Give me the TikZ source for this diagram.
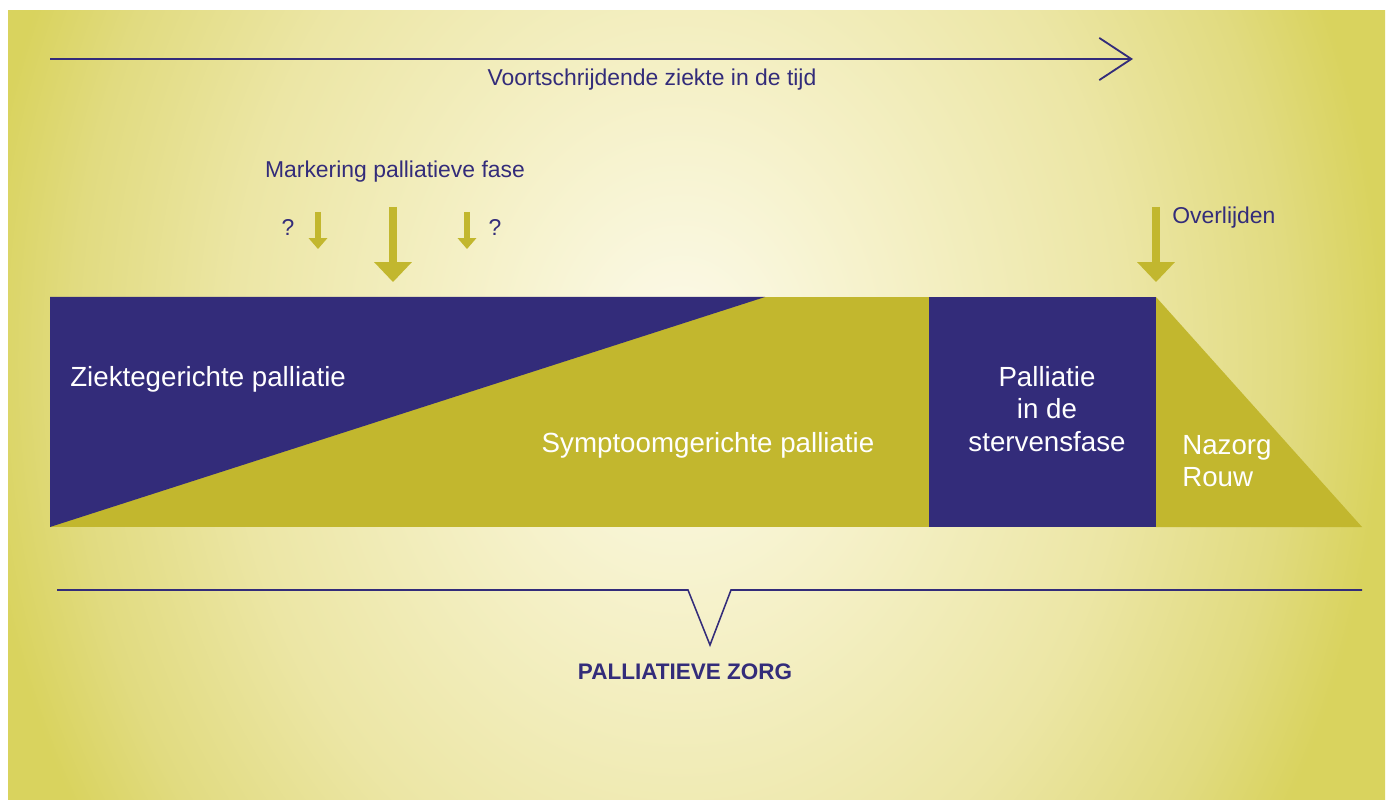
\documentclass[tikz,border=0pt]{standalone}
\usepackage{fontspec}
\setmainfont{Liberation Sans}
\usepackage{xcolor}
\usepackage{tikz}
\usetikzlibrary{arrows.meta, positioning, calc}
\definecolor{navy}{HTML}{332C7A}
\definecolor{olive}{HTML}{C2B72E}
\definecolor{bgin}{HTML}{FCFAEB}
\definecolor{bgone}{HTML}{F6F2CC}
\definecolor{bgtwo}{HTML}{ECE6A5}
\definecolor{bgthree}{HTML}{E1DB80}
\definecolor{bgout}{HTML}{D9D35E}
\pgfdeclareradialshading{bgglow}{\pgfpoint{0bp}{0bp}}{%
  color(0bp)=(bgin); color(6bp)=(bgone); color(14bp)=(bgtwo);
  color(19bp)=(bgthree); color(22bp)=(bgout); color(50bp)=(bgout)}
\tikzset{
  lbl/.style      = {inner sep=0pt, text=navy, font=\fontsize{16.3}{19}\selectfont},
  bandtext/.style = {inner sep=0pt, text=white, font=\fontsize{19.7}{23}\selectfont},
  timeline/.style = {navy, line width=1.3pt,
    -{Straight Barb[length=22.8pt, width=30pt, line width=1.3pt]}},
  bigmark/.style  = {olive, line width=5.7pt,
    -{Triangle[length=14.2pt, width=27pt, line width=0pt]}},
  smallmark/.style = {olive, line width=3.6pt,
    -{Triangle[length=7.8pt, width=13.5pt, line width=0pt]}},
  brace/.style    = {navy, line width=1.1pt, line join=miter},
}

\begin{document}
\begin{tikzpicture}[x=0.025cm, y=-0.025cm]

  \useasboundingbox (0,0) rectangle (1390,800);
  \fill[white] (0,0) rectangle (1390,800);

  % Background glow
  \begin{scope}
    \clip (8,11) rectangle (1385,800);
    \shade[shading=bgglow] (680,360) ellipse [x radius=800, y radius=1000];
  \end{scope}

  % Time axis
  \coordinate (tstart) at (50,59);
  \coordinate (tend)   at (1133,59);
  \draw[timeline] (tstart) -- (tend);
  \node[lbl, anchor=base] (timetext) at (652,86) {Voortschrijdende ziekte in de tijd};

  % Markering palliatieve fase
  \node[lbl, anchor=base] (markering) at (395,178) {Markering palliatieve fase};
  \node[lbl, anchor=base] (qleft)  at (288,236) {?};
  \node[lbl, anchor=base] (qright) at (495,236) {?};
  \coordinate (mleft)     at (318,212);
  \coordinate (mlefttip)  at (318,249);
  \coordinate (mmid)      at (393,207);
  \coordinate (mmidtip)   at (393,282);
  \coordinate (mright)    at (467,212);
  \coordinate (mrighttip) at (467,249);
  \draw[smallmark] (mleft) -- (mlefttip);
  \draw[bigmark]   (mmid) -- (mmidtip);
  \draw[smallmark] (mright) -- (mrighttip);

  % Overlijden
  \node[lbl, anchor=base west] (overlijden) at (1172,224) {Overlijden};
  \coordinate (death)    at (1156,207);
  \coordinate (deathtip) at (1156,282);
  \draw[bigmark] (death) -- (deathtip);

  % Band
  \fill[olive] (50,297) rectangle (929,527);
  \fill[navy] (50,297) -- (765,297) -- (50,527) -- cycle;
  \fill[navy] (929,297) rectangle (1156,527);
  \fill[olive] (1156,297) -- (1156,527) -- (1362,527) -- cycle;

  \node[bandtext, anchor=base west] (ziekte) at (70,387) {Ziektegerichte palliatie};
  \node[bandtext, anchor=base] (symptoom) at (708,452) {Symptoomgerichte palliatie};
  \node[bandtext, align=center] (sterven) at (1047,409) {Palliatie\\in de\\stervensfase};
  \node[bandtext, align=left, anchor=west] (nazorg) at (1182,461) {Nazorg\\Rouw};

  % Palliatieve zorg
  \coordinate (bleft)   at (57,590);
  \coordinate (bvleft)  at (688,590);
  \coordinate (bvtip)   at (710,645);
  \coordinate (bvright) at (731,590);
  \coordinate (bright)  at (1362,590);
  \draw[brace] (bleft) -- (bvleft) -- (bvtip) -- (bvright) -- (bright);
  \node[lbl, anchor=base, font=\fontsize{16}{19}\selectfont\bfseries] (zorg) at (685,679) {PALLIATIEVE ZORG};

\end{tikzpicture}
\end{document}
